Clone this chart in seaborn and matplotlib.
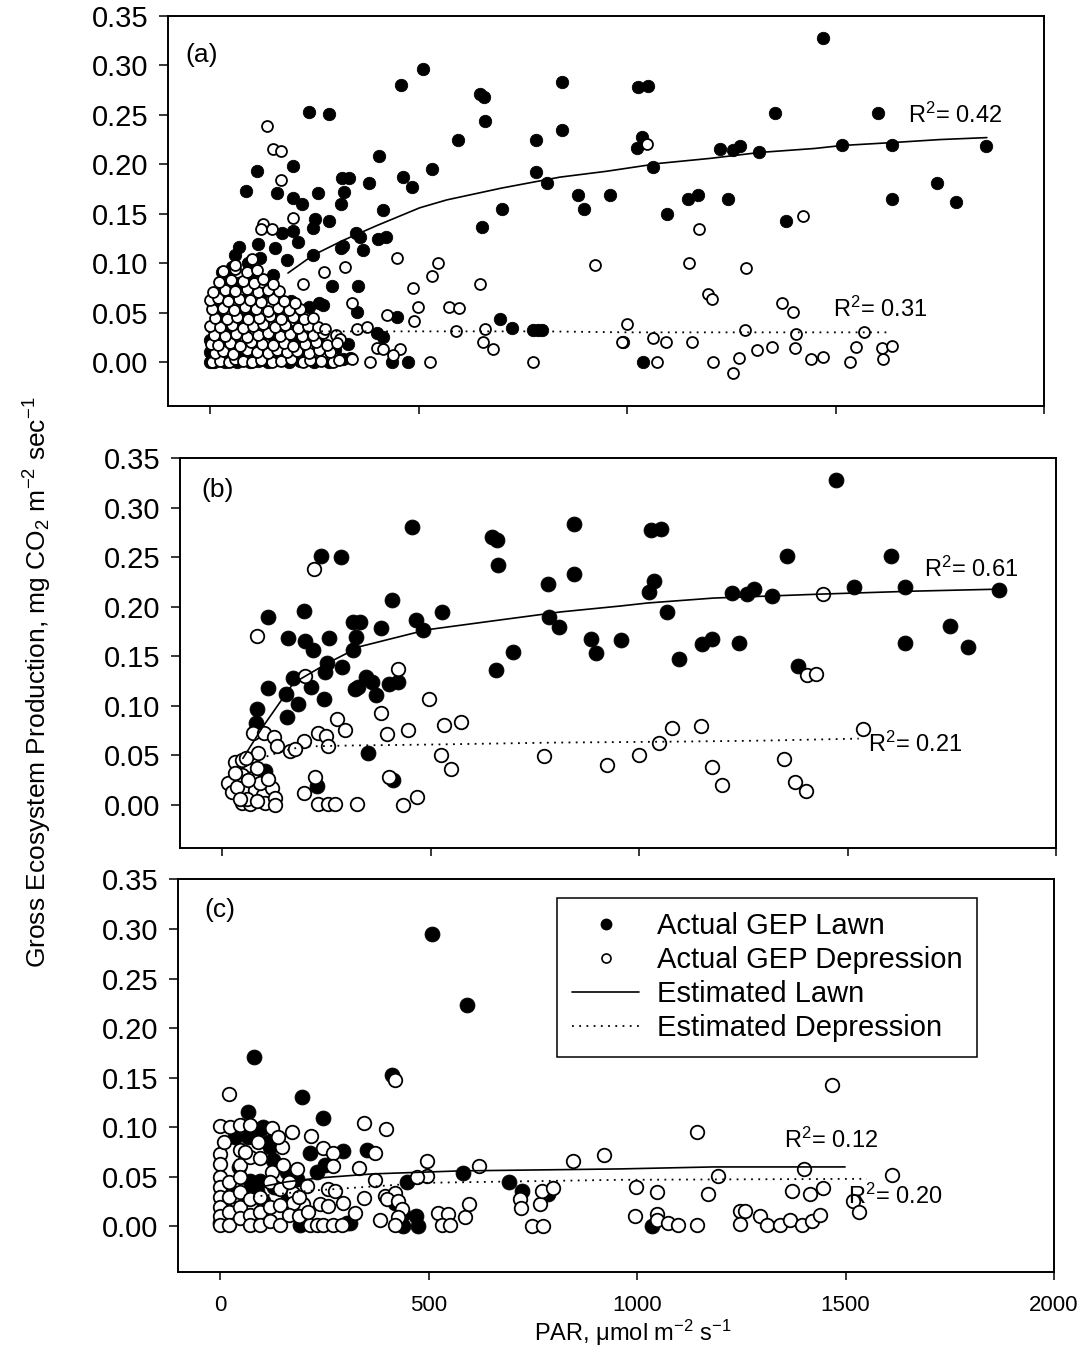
import matplotlib
matplotlib.use("Agg")
import matplotlib.pyplot as plt
import seaborn as sns
import numpy as np
from matplotlib.lines import Line2D

# ---------------- data ----------------
# Panel (a)
a_lawn_x = [511, 458, 237, 285, 647, 657, 660, 844, 1026, 1050, 595, 782, 844, 1036, 1024, 1062, 405, 199, 112, 86,
            160, 200, 221, 259, 316, 334, 322, 314, 382, 463, 485, 532, 415, 782, 808, 883, 897, 959, 700, 652,
            252, 247, 285, 199, 173, 211, 115, 70, 156, 350, 360, 403, 422, 319, 314, 367, 247, 184, 293, 355,
            40, 53, 238, 261, 271, 352, 448, 695, 725, 775, 787, 796, 400, 415, 436, 475, 1039, 232, 320,
            1470, 1355, 1602, 1223, 1254, 1271, 1317, 1515, 1635, 1861, 1146, 1170, 1096, 1242, 1381, 1635, 1743, 1789, 990,
            0, 10, 22, 35, 50, 65, 80, 95, 115, 140, 165, 190, 215, 250, 285, 0, 15, 40, 70, 105,
            135, 175, 230, 0, 28, 58, 90, 120, 150, 200, 8, 45, 85, 144, 185, 20, 60, 95, 130, 17,
            79, 110, 160, 40, 88, 125, 30, 70, 105, 29, 150, 90, 60, 120, 195, 210, 260, 300, 330]
a_lawn_y = [0.296, 0.280, 0.253, 0.251, 0.271, 0.268, 0.244, 0.283, 0.278, 0.279, 0.225, 0.225, 0.235, 0.228, 0.216, 0.197, 0.208, 0.198, 0.193, 0.173,
            0.171, 0.166, 0.160, 0.171, 0.186, 0.186, 0.172, 0.160, 0.181, 0.187, 0.177, 0.195, 0.154, 0.192, 0.181, 0.169, 0.155, 0.169, 0.155, 0.137,
            0.145, 0.136, 0.143, 0.133, 0.130, 0.121, 0.119, 0.116, 0.115, 0.131, 0.126, 0.124, 0.126, 0.117, 0.115, 0.113, 0.108, 0.103, 0.077, 0.077,
            0.090, 0.096, 0.056, 0.060, 0.058, 0.051, 0.046, 0.044, 0.034, 0.032, 0.032, 0.032, 0.029, 0.025, 0.000, 0.000, 0.000, 0.039, 0.003,
            0.328, 0.252, 0.252, 0.215, 0.214, 0.218, 0.212, 0.220, 0.220, 0.218, 0.165, 0.169, 0.150, 0.165, 0.143, 0.165, 0.181, 0.162, 0.020,
            0.000, 0.000, 0.002, 0.000, 0.001, 0.000, 0.002, 0.000, 0.001, 0.000, 0.002, 0.000, 0.001, 0.000, 0.000, 0.010, 0.012, 0.008, 0.011, 0.009,
            0.013, 0.010, 0.008, 0.022, 0.020, 0.024, 0.019, 0.022, 0.026, 0.021, 0.034, 0.032, 0.036, 0.029, 0.033, 0.045, 0.043, 0.048, 0.044, 0.056,
            0.050, 0.058, 0.052, 0.066, 0.064, 0.070, 0.078, 0.080, 0.084, 0.091, 0.088, 0.100, 0.108, 0.105, 0.062, 0.045, 0.020, 0.012, 0.018]

a_dep_x = [136, 152, 170, 170, 199, 128, 122, 149, 448, 547, 532, 324, 273, 223, 647, 487, 341, 499, 489, 573,
           597, 424, 352, 376, 590, 660, 655, 678, 302, 312, 400, 415, 455, 384, 528, 775, 923, 1000, 988, 1062,
           1072, 1048, 336, 1422, 1173, 1149, 1285, 1195, 1204, 1372, 1399, 1094, 1156, 1206, 1269, 1254, 1283, 1312, 1348, 1405,
           1403, 1441, 1470, 1535, 1549, 1568, 1612, 1635, 1614, 232, 256, 271, 292, 338, 439, 199, 173,
           5, 25, 45, 60, 78, 100, 122, 148, 170, 195, 222, 240, 265, 295, 310, 340,
           12, 32, 55, 88, 112, 138, 160, 185, 208, 238, 262, 288,
           2, 20, 48, 72, 98, 125, 152, 178, 200, 228, 255, 280, 305,
           10, 35, 62, 88, 115, 140, 168, 192, 220, 248, 272,
           0, 25, 52, 78, 102, 128, 155, 180, 210, 235, 260, 275,
           12, 40, 65, 92, 118, 145, 170, 198, 225, 248,
           5, 30, 58, 85, 110, 138, 162, 190, 215,
           0, 18, 42, 70, 95, 122, 150, 178, 205,
           8, 35, 60, 88, 115, 140, 165,
           22, 50, 78, 105, 128, 150,
           30, 60, 88, 112, 100, 60]
a_dep_y = [0.239, 0.215, 0.213, 0.184, 0.146, 0.140, 0.135, 0.135, 0.105, 0.100, 0.087, 0.096, 0.091, 0.079, 0.079, 0.075, 0.060, 0.056, 0.041, 0.056,
           0.055, 0.048, 0.033, 0.035, 0.031, 0.033, 0.020, 0.013, 0.027, 0.023, 0.014, 0.013, 0.013, 0.000, 0.000, 0.000, 0.098, 0.038, 0.020, 0.024,
           0.000, 0.221, 0.004, 0.148, 0.135, 0.100, 0.095, 0.069, 0.064, 0.060, 0.051, 0.020, 0.020, 0.000, 0.004, -0.011, 0.032, 0.012, 0.015, 0.028,
           0.014, 0.003, 0.005, 0.000, 0.015, 0.030, 0.014, 0.016, 0.003, 0.015, 0.019, 0.009, 0.006, 0.004, 0.007, 0.030, 0.032,
           0.000, 0.001, 0.000, 0.003, 0.001, 0.000, 0.002, 0.000, 0.001, 0.003, 0.000, 0.002, 0.001, 0.000, 0.002, 0.003,
           0.009, 0.011, 0.008, 0.012, 0.010, 0.009, 0.012, 0.010, 0.011, 0.009, 0.012, 0.010,
           0.018, 0.017, 0.019, 0.016, 0.020, 0.018, 0.017, 0.019, 0.016, 0.018, 0.020, 0.017, 0.019,
           0.027, 0.026, 0.028, 0.025, 0.027, 0.029, 0.026, 0.028, 0.026, 0.027, 0.029,
           0.036, 0.035, 0.037, 0.034, 0.036, 0.038, 0.035, 0.037, 0.034, 0.036, 0.035, 0.033,
           0.045, 0.044, 0.046, 0.043, 0.045, 0.047, 0.044, 0.046, 0.043, 0.045,
           0.054, 0.055, 0.053, 0.056, 0.054, 0.052, 0.055, 0.053, 0.054,
           0.063, 0.065, 0.062, 0.064, 0.063, 0.061, 0.064, 0.062, 0.060,
           0.071, 0.073, 0.072, 0.074, 0.071, 0.073, 0.072,
           0.081, 0.083, 0.082, 0.080, 0.084, 0.079,
           0.092, 0.094, 0.091, 0.093, 0.104, 0.098]

a_lawn_fit_x = [187, 247, 319, 400, 503, 568, 700, 839, 952, 1079, 1200, 1319, 1450, 1515, 1638, 1750, 1863]
a_lawn_fit_y = [0.090, 0.108, 0.123, 0.138, 0.156, 0.164, 0.176, 0.187, 0.193, 0.201, 0.206, 0.212, 0.216, 0.219, 0.222, 0.225, 0.227]
a_dep_fit_x = [232, 400, 600, 800, 1000, 1200, 1400, 1623]
a_dep_fit_y = [0.031, 0.031, 0.031, 0.031, 0.030, 0.030, 0.030, 0.030]

# Panel (b)
b_lawn_x = [456, 238, 286, 648, 660, 662, 843, 843, 782, 408, 197, 110, 528, 314, 331, 322, 313, 382, 466, 483,
            158, 199, 219, 257, 783, 809, 699, 656, 886, 898, 956, 252, 247, 288, 171, 213, 110, 154, 182, 245,
            346, 360, 370, 319, 327, 401, 423, 84, 156, 82, 351, 103, 228, 411,
            1472, 1028, 1052, 1356, 1604, 1037, 1025, 1066, 1224, 1258, 1275, 1318, 1515, 1637, 1863, 1150, 1174, 1097, 1241, 1381,
            1637, 1745, 1788]
b_lawn_y = [0.281, 0.252, 0.250, 0.271, 0.268, 0.242, 0.284, 0.233, 0.223, 0.207, 0.196, 0.190, 0.195, 0.185, 0.185, 0.170, 0.157, 0.179, 0.187, 0.177,
            0.169, 0.166, 0.157, 0.169, 0.190, 0.180, 0.155, 0.136, 0.168, 0.154, 0.167, 0.143, 0.134, 0.139, 0.128, 0.119, 0.118, 0.112, 0.102, 0.107,
            0.129, 0.124, 0.111, 0.117, 0.119, 0.122, 0.124, 0.097, 0.089, 0.083, 0.052, 0.034, 0.019, 0.025,
            0.328, 0.278, 0.279, 0.252, 0.251, 0.226, 0.215, 0.195, 0.214, 0.213, 0.218, 0.211, 0.220, 0.220, 0.217, 0.163, 0.168, 0.147, 0.164, 0.140,
            0.164, 0.181, 0.160]

b_dep_x = [221, 84, 199, 423, 497, 382, 276, 295, 231, 250, 255, 396, 447, 533, 574, 197, 74, 101, 125, 132,
           163, 175, 86, 526, 550, 223, 197, 401, 231, 254, 271, 324, 435, 468, 773,
           1441, 1402, 1424, 1078, 1148, 1049, 999, 924, 1176, 1200, 1347, 1373, 1400, 1537,
           31, 48, 58, 14, 24, 36, 48, 72, 84, 48, 68, 79, 99, 103, 120, 127, 127, 91, 60, 42, 62, 30, 110, 85]
b_dep_y = [0.238, 0.171, 0.130, 0.137, 0.107, 0.093, 0.087, 0.076, 0.073, 0.070, 0.060, 0.072, 0.076, 0.081, 0.084, 0.065, 0.073, 0.073, 0.069, 0.060,
           0.054, 0.057, 0.052, 0.050, 0.036, 0.028, 0.012, 0.028, 0.001, 0.001, 0.001, 0.001, 0.000, 0.008, 0.049,
           0.213, 0.131, 0.132, 0.078, 0.080, 0.063, 0.050, 0.040, 0.038, 0.020, 0.046, 0.023, 0.014, 0.077,
           0.043, 0.045, 0.047, 0.022, 0.013, 0.018, 0.030, 0.027, 0.037, 0.002, 0.001, 0.015, 0.010, 0.002, 0.017, 0.007, 0.000, 0.022, 0.006, 0.006, 0.025, 0.032, 0.026, 0.004]

b_lawn_fit_x = [50, 98, 171, 252, 331, 492, 651, 812, 956, 1020, 1179, 1436, 1660, 1863]
b_lawn_fit_y = [0.047, 0.079, 0.123, 0.143, 0.160, 0.177, 0.186, 0.195, 0.201, 0.204, 0.209, 0.213, 0.216, 0.218]
b_dep_fit_x = [107, 150, 195, 300, 500, 800, 1100, 1300, 1527]
b_dep_fit_y = [0.049, 0.055, 0.059, 0.060, 0.061, 0.063, 0.064, 0.065, 0.067]

# Panel (c)
c_lawn_x = [509, 593, 82, 413, 197, 247, 67, 103, 115, 36, 67, 295, 216, 352, 232, 252, 583, 448, 693, 724,
            787, 420, 440, 470, 475, 439, 160, 184, 72, 88, 59, 96, 104, 128, 120, 96, 160, 192, 16, 0,
            304, 312, 1036, 130, 45, 20]
c_lawn_y = [0.295, 0.223, 0.171, 0.153, 0.131, 0.109, 0.115, 0.100, 0.085, 0.090, 0.090, 0.076, 0.074, 0.077, 0.055, 0.062, 0.054, 0.045, 0.045, 0.036,
            0.033, 0.024, 0.013, 0.010, 0.000, 0.000, 0.055, 0.048, 0.046, 0.036, 0.034, 0.046, 0.026, 0.067, 0.080, 0.098, 0.026, 0.001, 0.016, 0.003,
            0.003, 0.003, 0.000, 0.040, 0.060, 0.040]

c_dep_x = [22, 420, 345, 398, 173, 218, 0, 24, 48, 72, 125, 247, 271, 372, 149, 0, 0, 48, 48, 72,
           96, 125, 184, 271, 333, 496, 496, 472, 621, 847, 921, 372, 259, 276, 345, 295, 324, 396, 420, 400,
           427, 436, 427, 420, 384, 523, 547, 532, 552, 588, 597, 719, 722, 767, 772, 798, 748, 775, 216, 232,
           247, 271, 292, 240, 259, 199, 175, 175, 209,
           1468, 1144, 1401, 1194, 1611, 998, 1048, 1170, 1372, 1415, 1446, 1518, 1532, 995, 1048, 1048, 1074, 1098, 1144, 1247,
           1259, 1247, 1295, 1312, 1343, 1367, 1396, 1420, 1439,
           0, 0, 0, 0, 0, 0, 22, 22, 22, 22, 48, 48, 48, 48, 72, 72, 72, 96, 96, 96,
           120, 120, 120, 145, 145, 145, 165, 165, 190, 190, 210, 150, 10, 90, 60, 140]
c_dep_y = [0.134, 0.148, 0.104, 0.098, 0.095, 0.091, 0.101, 0.100, 0.102, 0.102, 0.099, 0.079, 0.074, 0.074, 0.080, 0.073, 0.063, 0.077, 0.062, 0.070,
           0.069, 0.055, 0.058, 0.061, 0.059, 0.066, 0.051, 0.050, 0.061, 0.066, 0.072, 0.047, 0.038, 0.036, 0.029, 0.024, 0.014, 0.031, 0.034, 0.028,
           0.026, 0.018, 0.009, 0.001, 0.006, 0.014, 0.013, 0.001, 0.001, 0.009, 0.023, 0.028, 0.019, 0.023, 0.036, 0.039, 0.000, 0.000, 0.001, 0.001,
           0.001, 0.001, 0.001, 0.023, 0.021, 0.023, 0.034, 0.024, 0.041,
           0.143, 0.095, 0.058, 0.051, 0.052, 0.040, 0.035, 0.033, 0.036, 0.033, 0.039, 0.026, 0.015, 0.010, 0.013, 0.006, 0.003, 0.001, 0.001, 0.016,
           0.016, 0.002, 0.011, 0.001, 0.001, 0.006, 0.001, 0.005, 0.012,
           0.050, 0.040, 0.030, 0.020, 0.010, 0.001, 0.045, 0.030, 0.015, 0.001, 0.050, 0.035, 0.020, 0.008, 0.028, 0.012, 0.001, 0.030, 0.015, 0.001,
           0.045, 0.020, 0.005, 0.038, 0.022, 0.001, 0.045, 0.012, 0.030, 0.010, 0.015, 0.062, 0.085, 0.085, 0.075, 0.090]

c_lawn_fit_x = [100, 160, 240, 367, 575, 959, 1183, 1499]
c_lawn_fit_y = [0.040, 0.045, 0.049, 0.053, 0.056, 0.058, 0.060, 0.060]
c_dep_fit_x = [80, 216, 496, 959, 1551]
c_dep_fit_y = [0.030, 0.036, 0.044, 0.047, 0.048]

y_ticks = [0.00, 0.05, 0.10, 0.15, 0.20, 0.25, 0.30, 0.35]
x_ticks = [0, 500, 1000, 1500, 2000]
panel_tags = ["(a)", "(b)", "(c)"]
r2_texts = [("0.42", "0.31"), ("0.61", "0.21"), ("0.12", "0.20")]
legend_labels = ["Actual GEP Lawn", "Actual GEP Depression", "Estimated Lawn", "Estimated Depression"]

# ---------------- styling ----------------
sns.set_style("ticks")
plt.rcParams["font.family"] = ["Liberation Sans", "DejaVu Sans"]
plt.rcParams["mathtext.fontset"] = "custom"
plt.rcParams["mathtext.rm"] = "Liberation Sans"
plt.rcParams["mathtext.it"] = "Liberation Sans"
plt.rcParams["mathtext.bf"] = "Liberation Sans:bold"
plt.rcParams["text.color"] = "black"
plt.rcParams["axes.labelcolor"] = "black"
plt.rcParams["xtick.color"] = "black"
plt.rcParams["ytick.color"] = "black"

W, H = 1086, 1368
fig = plt.figure(figsize=(W / 100, H / 100), dpi=100)


def add_ax(left, right, top, bottom):
    return fig.add_axes([left / W, 1 - bottom / H, (right - left) / W, (bottom - top) / H])


ax_a = add_ax(168.3, 1044, 16, 406)
ax_b = add_ax(180.3, 1056, 458, 848)
ax_c = add_ax(178.3, 1054, 879, 1272)

DOT = (0, (1, 3))


def draw_panel(ax, lx, ly, dx, dy, lfx, lfy, dfx, dfy, s_fill, s_open, ylim, tag, tagpos, r2, r2pos, xlabels):
    sns.scatterplot(x=lx, y=ly, ax=ax, color="black", edgecolor="black", s=s_fill, linewidth=0.6, zorder=3, legend=False)
    sns.scatterplot(x=dx, y=dy, ax=ax, color="white", edgecolor="black", s=s_open, linewidth=1.3, zorder=4, legend=False)
    sns.lineplot(x=lfx, y=lfy, ax=ax, color="black", linewidth=1.2, sort=False, estimator=None, zorder=5)
    sns.lineplot(x=dfx, y=dfy, ax=ax, color="black", linewidth=1.3, linestyle=DOT, sort=False, estimator=None, zorder=5)
    ax.set_xlim(-100, 2000)
    ax.set_ylim(*ylim)
    ax.set_xticks(x_ticks)
    ax.set_yticks(y_ticks)
    ax.set_yticklabels([f"{v:.2f}" for v in y_ticks])
    ax.tick_params(axis="y", direction="out", length=6.5, width=1.1, labelsize=21, pad=8, colors="black")
    ax.tick_params(axis="x", direction="out", length=5.5, width=1.1, labelsize=16, pad=11,
                   labelbottom=xlabels, colors="black")
    for sp in ax.spines.values():
        sp.set_visible(True)
        sp.set_linewidth(1.4)
        sp.set_color("black")
    ax.set_xlabel("")
    ax.set_ylabel("")
    ax.text(tagpos[0], tagpos[1], tag, transform=ax.transAxes, fontsize=19, ha="left", va="center")
    ax.text(r2pos[0][0], r2pos[0][1], "R$^2$= " + r2[0], fontsize=17, ha="left", va="baseline", zorder=6)
    ax.text(r2pos[1][0], r2pos[1][1], "R$^2$= " + r2[1], fontsize=17, ha="left", va="baseline", zorder=6)


draw_panel(ax_a, a_lawn_x, a_lawn_y, a_dep_x, a_dep_y, a_lawn_fit_x, a_lawn_fit_y, a_dep_fit_x, a_dep_fit_y,
           80, 62, (-0.0445, 0.35), panel_tags[0], (0.02, 0.90), r2_texts[0],
           [(1674, 0.242), (1494, 0.0455)], False)
draw_panel(ax_b, b_lawn_x, b_lawn_y, b_dep_x, b_dep_y, b_lawn_fit_x, b_lawn_fit_y, b_dep_fit_x, b_dep_fit_y,
           115, 95, (-0.0435, 0.3505), panel_tags[1], (0.024, 0.918), r2_texts[1],
           [(1683, 0.230), (1549, 0.0535)], False)
draw_panel(ax_c, c_lawn_x, c_lawn_y, c_dep_x, c_dep_y, c_lawn_fit_x, c_lawn_fit_y, c_dep_fit_x, c_dep_fit_y,
           115, 95, (-0.046, 0.3505), panel_tags[2], (0.03, 0.92), r2_texts[2],
           [(1352, 0.079), (1506, 0.023)], True)

handles = [
    Line2D([], [], marker="o", linestyle="none", markerfacecolor="black", markeredgecolor="black", markersize=7.5),
    Line2D([], [], marker="o", linestyle="none", markerfacecolor="white", markeredgecolor="black", markersize=6.5, markeredgewidth=1.2),
    Line2D([], [], color="black", linewidth=1.2),
    Line2D([], [], color="black", linewidth=1.3, linestyle=DOT),
]
leg = ax_c.legend(handles, legend_labels, loc="upper left", bbox_to_anchor=(0.433, 0.952), borderaxespad=0,
                  frameon=True, fancybox=False, edgecolor="black", framealpha=1, fontsize=21,
                  handlelength=2.3, handletextpad=0.6, labelspacing=0.2, borderpad=0.5)
leg.get_frame().set_linewidth(1.1)

fig.text(38 / W, 1 - 682 / H, "Gross Ecosystem Production, mg CO$_2$ m$^{-2}$ sec$^{-1}$",
         rotation=90, ha="center", va="center", fontsize=19)
fig.text(633 / W, 1 - 1341 / H, "PAR, \u03bcmol m$^{-2}$ s$^{-1}$", ha="center", va="baseline", fontsize=17)

fig.savefig("out.png", dpi=100)
